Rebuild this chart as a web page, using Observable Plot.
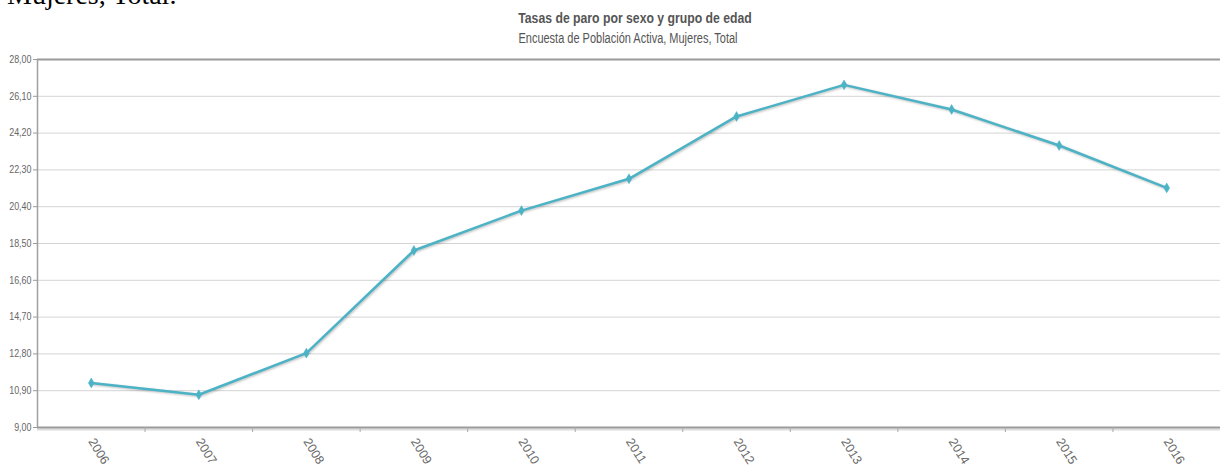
<!DOCTYPE html>
<html>
<head>
<meta charset="utf-8">
<script src="https://cdn.jsdelivr.net/npm/d3@7"></script>
<script src="https://cdn.jsdelivr.net/npm/@observablehq/plot@0.6"></script>
<style>
  html, body { margin: 0; padding: 0; background: #fff; overflow: hidden; }
  #wrap { position: relative; width: 1220px; height: 469px; }
  #cut { position: absolute; left: 7px; top: -19px; font-family: "Liberation Serif", "Times New Roman", serif; font-size: 28px; line-height: 28px; color: #000; white-space: nowrap; }
  #title { position: absolute; left: 635px; top: 9px; transform: translateX(-50%) scaleX(0.815); font-family: "Liberation Sans", Arial, sans-serif; font-weight: bold; font-size: 15px; color: #555; white-space: nowrap; }
  #subtitle { position: absolute; left: 628px; top: 30px; transform: translateX(-50%) scaleX(0.785); font-family: "Liberation Sans", Arial, sans-serif; font-size: 14px; color: #555; white-space: nowrap; }
  #chart { position: absolute; left: 0; top: 0; }
  #chart svg .serie path { filter: drop-shadow(1px 1px 1px rgba(0,0,0,0.25)); }
</style>
</head>
<body>
<div id="wrap">
  <div id="cut">Mujeres, Total.</div>
  <div id="chart"></div>
  <div id="title">Tasas de paro por sexo y grupo de edad</div>
  <div id="subtitle">Encuesta de Población Activa, Mujeres, Total</div>
</div>
<script>
const years = [2006, 2007, 2008, 2009, 2010, 2011, 2012, 2013, 2014, 2015, 2016];
const tasas = [11.30, 10.69, 12.84, 18.14, 20.20, 21.84, 25.06, 26.69, 25.42, 23.56, 21.37];
const yTicks = [9.00, 10.90, 12.80, 14.70, 16.60, 18.50, 20.40, 22.30, 24.20, 26.10, 28.00];
const lineColor = "#4bb3c5";

const data = years.map((y, i) => ({year: y, tasa: tasas[i]}));
const bounds = years.slice(0, -1).map(y => y + 0.5);
const fmt = d => d.toFixed(2).replace(".", ",");

const chart = Plot.plot({
  width: 1220,
  height: 469,
  marginTop: 59,
  marginBottom: 42,
  marginLeft: 37,
  marginRight: 0,
  style: {fontFamily: "'Liberation Sans', Arial, sans-serif", background: "transparent"},
  x: {type: "linear", domain: [years[0] - 0.5, years[years.length - 1] + 0.5]},
  y: {domain: [yTicks[0], yTicks[yTicks.length - 1]]},
  marks: [
    Plot.ruleY(yTicks.slice(1, -1), {stroke: "#d4d4d4", strokeWidth: 1}),
    Plot.ruleY([yTicks[yTicks.length - 1]], {stroke: "#9a9a9a", strokeWidth: 2}),
    Plot.ruleY([yTicks[0]], {stroke: "#dcdcdc", strokeWidth: 2, dy: 2}),
    Plot.ruleY([yTicks[0]], {stroke: "#9a9a9a", strokeWidth: 2}),
    Plot.ruleX([years[0] - 0.5], {stroke: "#a0a0a0", strokeWidth: 1.5}),
    Plot.axisY({ticks: yTicks, tickFormat: fmt, tickSize: 4, tickPadding: 2, fontSize: 10.5, color: "#666", stroke: "#999", label: null, className: "yax"}),
    Plot.axisX({ticks: bounds, tickFormat: () => "", tickSize: 5, stroke: "#aaa", label: null}),
    Plot.axisX({ticks: years, tickFormat: d => String(d), tickSize: 0, tickPadding: 12, tickRotate: 58, fontSize: 12.5, color: "#666", label: null, className: "xax"}),
    Plot.lineY(data, {x: "year", y: "tasa", stroke: lineColor, strokeWidth: 2.5, className: "serie"}),
    Plot.dot(data, {x: "year", y: "tasa", symbol: "diamond", r: 3, fill: lineColor, stroke: lineColor, strokeWidth: 0.5})
  ]
});
// condense the y tick labels like the reference
chart.querySelectorAll(".yax text").forEach(t => {
  const tr = t.getAttribute("transform") || "";
  t.setAttribute("transform", tr + " scale(0.85,1)");
});
document.getElementById("chart").appendChild(chart);
</script>
</body>
</html>
